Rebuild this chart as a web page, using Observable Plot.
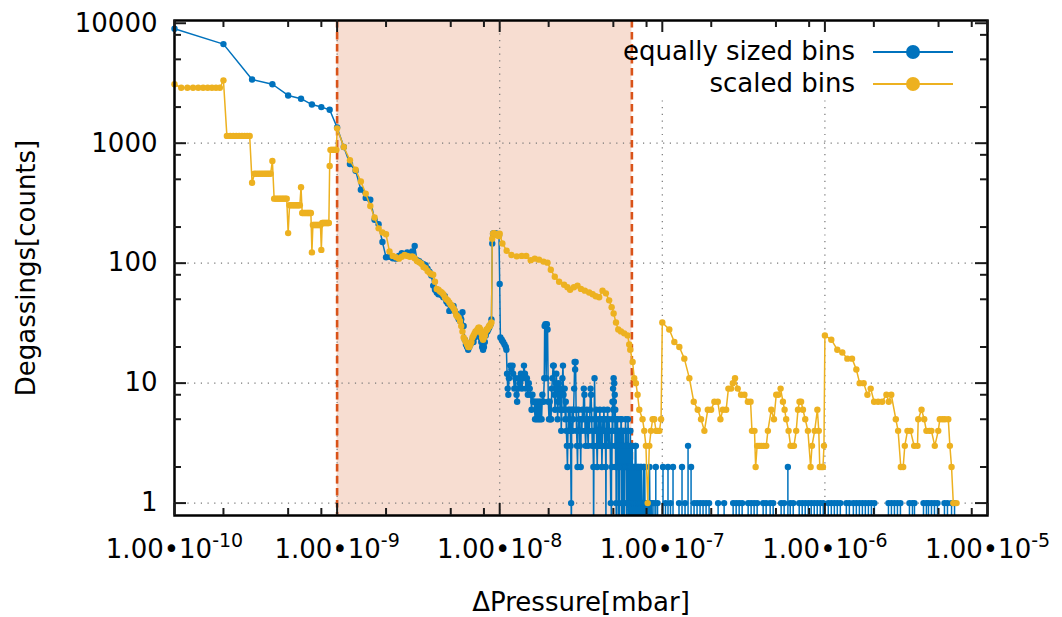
<!DOCTYPE html>
<html>
<head>
<meta charset="utf-8">
<script src="https://cdn.jsdelivr.net/npm/d3@7"></script>
<script src="https://cdn.jsdelivr.net/npm/@observablehq/plot@0.6"></script>
<style>
  body { margin: 0; background: #fff; }
  #chart svg { display: block; }
</style>
</head>
<body>
<div id="chart"></div>
<script>
// ---------------------------------------------------------------------------
// Data
// ---------------------------------------------------------------------------

// Width of one equally sized bin (mbar); bin n covers n * binWidth
const binWidth = 1e-10;

// Equally sized bins: counts of bins 1 … 99
const equalCounts = [
  9000, 6700, 3400, 3100, 2500, 2350, 2100, 2000, 1900,
  1350, 930, 670, 590, 410, 350, 338, 230, 211, 150,
  112, 113, 110, 109, 115, 121, 118, 123, 118, 125,
  139, 106, 104, 100, 98, 96, 90, 85, 79, 65,
  60, 57, 55, 56, 54, 52, 53, 48, 46, 40,
  44, 42, 44, 40, 38, 36, 34, 33, 34, 39,
  30, 23, 21, 20, 19, 20, 21, 22, 23, 22,
  24, 25, 27, 26, 27, 25, 24, 22, 20, 19,
  20, 22, 25, 27, 27, 28, 29, 30, 31, 34,
  146, 176, 178, 175, 177, 174, 176, 172, 174, 170
];

// Equally sized bins from bin 100 on: [bin, count] (0 = empty bin)
const equalTail = [
  [100,67],[101,24],[103,23],[105,22],[107,21],[109,20],[110,19],[111,12],[112,9],[113,8],
  [114,11],[116,14],[118,13],[120,14],[121,12],[123,9],[125,11],[127,8],[128,7],[130,9],
  [131,11],[133,10],[135,12],[137,9],[139,11],[141,14],[143,12],[145,9],[147,11],[149,8],
  [151,10],[153,9],[155,8],[157,6],[159,8],[161,7],[163,7],[165,5],[167,7],[169,5],
  [171,7],[173,5],[175,7],[177,5],[179,7],[181,5],[183,8],[186,7],[188,11],[189,30],
  [191,31],[193,11],[195,31],[197,28],[199,7],[201,5],[203,7],[205,5],[207,5],[209,9],
  [211,11],[213,14],[215,14],[217,8],[219,6],[221,10],[223,12],[225,9],[227,5],[229,7],
  [231,10],[233,8],[235,6],[237,9],[239,4],[241,6],[243,11],[245,14],[247,8],[249,6],
  [251,9],[253,5],[255,7],[257,4],[259,3],[261,2],[263,4],[265,6],[267,5],[269,4],
  [271,6],[273,3],[275,1],[276,0],[277,4],[279,6],[281,4],[283,5],[285,6],[287,9],
  [289,15],[291,13],[293,15],[295,6],[297,4],[299,3],[301,2],[303,4],[305,6],[307,4],
  [309,5],[311,3],[313,4],[315,2],[317,5],[320,4],[323,6],[326,5],[329,9],[332,8],
  [335,4],[338,3],[341,5],[344,6],[347,4],[350,3],[353,5],[356,4],[359,6],[362,9],
  [365,8],[368,5],[371,3],[374,4],[377,2],[378,0],[380,3],[383,11],[386,5],[389,4],
  [392,6],[395,3],[398,2],[401,4],[404,5],[407,3],[410,4],[413,6],[416,3],[419,5],
  [422,4],[425,2],[428,3],[431,5],[434,4],[437,6],[440,5],[443,3],[446,4],[449,2],
  [450,0],[452,5],[455,3],[458,4],[461,6],[464,4],[467,3],[470,5],[474,4],[478,3],
  [482,1],[484,3],[486,0],[488,4],[490,2],[492,5],[494,7],[496,4],[498,9],[500,6],
  [502,11],[504,7],[506,10],[508,5],[510,8],[512,3],[514,6],[516,2],[518,4],[520,1],
  [522,0],[524,3],[526,5],[528,2],[530,5],[532,3],[535,4],[537,0],[540,2],[542,4],
  [545,0],[547,3],[550,4],[552,2],[555,3],[557,5],[560,5],[562,1],[565,0],[567,3],
  [570,2],[572,4],[575,4],[577,0],[580,1],[582,3],[585,0],[587,2],[590,3],[592,4],
  [595,5],[597,2],[600,4],[603,1],[606,0],[609,3],[612,2],[615,5],[618,4],[621,0],
  [624,3],[627,2],[630,0],[633,1],[636,4],[639,2],[642,2],[645,0],[651,3],[654,3],
  [657,0],[660,1],[664,2],[667,0],[670,1],[674,2],[677,0],[681,3],[684,0],[688,3],
  [691,1],[695,1],[698,0],[702,2],[706,0],[710,2],[714,1],[718,0],[722,2],[726,1],
  [730,0],[734,1],[738,2],[742,2],[746,0],[750,1],[755,0],[760,1],[765,2],[770,0],
  [775,1],[780,2],[785,0],[790,1],[797,0],[805,1],[812,0],[820,1],[827,0],[835,2],
  [842,0],[850,1],[857,0],[865,1],[872,0]
];

// Isolated occupied bins at high pressure (neighbours empty): [bin, count]
const equalSparse = [
  [889,1],[912,2],[935,1],[1010,2],[1046,1],[1084,2],[1123,1],[1164,2],[1267,1],[1322,2],
  [1380,1],[1440,3],[1503,2],[1568,1],[1636,1],[1707,1],[1781,1],[1859,1],[1940,1],[2204,1],
  [2400,1],[2727,1],[2846,1],[2969,1],[3098,1],[3372,1],[3518,1],[3671,1],[3831,1],[4171,1],
  [4352,1],[4607,1],[4807,1],[5380,1],[5615,1],[5920,2],[6120,1],[6386,1],[6950,1],[7252,1],
  [7567,1],[7897,1],[8240,1],[8598,1],[8972,1],[9362,1],[9769,1],[10490,1],[10950,1],[11430,1],
  [11920,1],[12440,1],[13550,1],[14140,1],[14960,1],[15610,1],[16290,1],[17000,1],[17730,1],[18510,1],
  [19310,1],[20150,1],[24590,1],[25650,1],[26770,1],[27930,1],[29140,1],[33110,1],[34550,1],[35550,1],
  [40400,1],[42100,1],[43350,1],[45230,1],[47190,1],[49250,1],[54360,1],[56720,1],[60100,1],[62700,1]
];

// Scaled bins, 1e-10 … 1e-9 mbar in steps of 1e-11 mbar
const scaledDecade1 = [
  3100, 2900, 2900, 2900, 2900, 2900, 2900, 2900, 2900, 2900,
  3340, 1150, 1150, 1150, 1150, 1150, 1150, 1150, 1150, 1150,
  468, 556, 556, 556, 556, 556, 556, 556, 556, 556,
  711, 345, 345, 345, 345, 345, 345, 345, 345, 345,
  178, 304, 304, 304, 304, 304, 304, 304, 304, 304,
  430, 262, 262, 262, 262, 262, 262, 262, 262, 262,
  123, 208, 208, 208, 208, 208, 208, 208, 208, 208,
  129, 216, 216, 216, 216, 216, 216, 216, 216, 216,
  646, 880, 880, 880, 880, 880, 880, 880, 880, 880
];

// Scaled bins, 1e-9 … 1e-8 mbar in steps of 1e-10 mbar
const scaledDecade2 = [
  1330, 930, 720, 600, 480, 380, 300, 240, 195, 180,
  174, 125, 115, 112, 109, 113, 117, 115, 113, 114,
  110, 104, 102, 99, 93, 91, 86, 83, 81, 80,
  70, 61, 60, 58, 57, 55, 52, 50, 49, 47,
  45, 44, 42, 40, 37, 36, 35, 33, 30, 27,
  24, 23, 22, 21, 20, 20, 21, 22, 24, 25,
  26, 27, 27, 28, 29, 29, 28, 26, 24, 23,
  24, 25, 27, 28, 28, 29, 30, 30, 31, 32,
  160, 176, 178, 176, 175, 174, 172, 175, 170, 168
];

// Scaled bins above 1e-8 mbar: [pressure (mbar), count]
const scaledTail = [
  [1.0e-8,176],[1.039e-8,146],[1.104e-8,127],[1.18e-8,117],[1.273e-8,114],[1.366e-8,115],
  [1.456e-8,115],[1.552e-8,106],[1.643e-8,109],[1.746e-8,107],[1.859e-8,103],[1.967e-8,101],
  [2.062e-8,88],[2.182e-8,77],[2.32e-8,70],[2.49e-8,66],[2.61e-8,63],[2.71e-8,60],
  [2.86e-8,63],[3.01e-8,65],[3.16e-8,61],[3.34e-8,59],[3.55e-8,57],[3.73e-8,55],
  [3.90e-8,53],[4.09e-8,52],[4.29e-8,59],[4.50e-8,56],[4.71e-8,49],[4.88e-8,43],
  [5.02e-8,38],[5.19e-8,32],[5.36e-8,28],[5.57e-8,27],[5.83e-8,26],[6.12e-8,25],
  [6.26e-8,21],[6.35e-8,19],[6.57e-8,15],[6.72e-8,11],[6.88e-8,10],[7.05e-8,8],
  [7.22e-8,6],[7.56e-8,5],[7.75e-8,4],[7.93e-8,3],[8.13e-8,1],[8.32e-8,3],
  [8.52e-8,4],[8.72e-8,5],[8.93e-8,5],[9.15e-8,4],[9.37e-8,4],[9.60e-8,4],[9.83e-8,5],
  [1.0e-7,32],[1.104e-7,28],[1.186e-7,22],[1.273e-7,20],[1.366e-7,16],[1.467e-7,11],
  [1.561e-7,7],[1.652e-7,6],[1.731e-7,5],[1.815e-7,4],[1.905e-7,6],[1.996e-7,6],
  [2.091e-7,7],[2.194e-7,7],[2.277e-7,5],[2.357e-7,6],[2.47e-7,6],[2.55e-7,9],
  [2.65e-7,9],[2.715e-7,10],[2.80e-7,11],[2.91e-7,9],[3.05e-7,8],[3.20e-7,8],
  [3.36e-7,7],[3.49e-7,7],[3.56e-7,4],[3.69e-7,4],[3.75e-7,2],[3.83e-7,3],
  [3.94e-7,3],[4.06e-7,3],[4.20e-7,3],[4.36e-7,3],[4.46e-7,4],[4.68e-7,6],
  [4.86e-7,5],[5.02e-7,8],[5.17e-7,8],[5.34e-7,9],[5.52e-7,7],[5.65e-7,6],
  [5.78e-7,5],[5.98e-7,4],[6.15e-7,3],[6.30e-7,3],[6.45e-7,3],[6.66e-7,4],
  [6.83e-7,6],[6.98e-7,7],[7.14e-7,7],[7.33e-7,6],[7.57e-7,5],[7.86e-7,4],
  [8.17e-7,2],[8.33e-7,3],[8.65e-7,4],[8.99e-7,6],[9.17e-7,4],[9.30e-7,2],
  [9.52e-7,2],[9.73e-7,2],[9.87e-7,3],
  [1.0e-6,25],[1.095e-6,23],[1.192e-6,19],[1.28e-6,18],[1.374e-6,16],[1.469e-6,16],
  [1.561e-6,13],[1.636e-6,10],[1.731e-6,10],[1.826e-6,8],[1.913e-6,9],[2.007e-6,7],
  [2.124e-6,7],[2.249e-6,7],[2.39e-6,8],[2.47e-6,7],[2.56e-6,8],[2.73e-6,5],
  [2.82e-6,4],[2.93e-6,2],[3.03e-6,2],[3.10e-6,3],[3.22e-6,4],[3.36e-6,4],
  [3.54e-6,3],[3.71e-6,3],[3.75e-6,5],[3.93e-6,6],[4.08e-6,5],[4.21e-6,4],
  [4.39e-6,4],[4.52e-6,4],[4.74e-6,3],[4.98e-6,4],[5.09e-6,5],[5.29e-6,5],
  [5.47e-6,5],[5.74e-6,5],[5.87e-6,3],[6.01e-6,2],[6.16e-6,1],[6.45e-6,1]
];

// Highlighted pressure window (mbar)
const windowFrom = 1e-9;
const windowTo = 6.5e-8;

// Axis ticks and labels
const xMajor = [1e-10, 1e-9, 1e-8, 1e-7, 1e-6, 1e-5];
const yMajor = [1, 10, 100, 1000, 10000];
const minorMantissas = [2, 5, 8];
const xGrid = [1e-9, 1e-8, 1e-7, 1e-6];
const yGrid = [1, 10, 100, 1000];

const seriesNames = ["equally sized bins", "scaled bins"];
const xTitle = "ΔPressure[mbar]";
const yTitle = "Degassings[counts]";

// ---------------------------------------------------------------------------
// Layout and styling
// ---------------------------------------------------------------------------
const W = 1062, H = 617;
const mL = 174, mR = 75, mT = 20, mB = 102;
const innerW = W - mL - mR, innerH = H - mT - mB;
const xDomain = [1e-10, 1e-5];
const yDomain = [0.788, 10540];
const yFloor = 0.5;               // empty bins drop below the visible range
const blue = "#0072bd", yellow = "#edb120", accent = "#d95319";
const font = "DejaVu Sans";

// ---------------------------------------------------------------------------
// Build plotting tables
// ---------------------------------------------------------------------------
const equal = [
  ...equalCounts.map((c, i) => ({p: (i + 1) * binWidth, c})),
  ...equalTail.map(([b, c]) => ({p: b * binWidth, c}))
];
const equalLine = equal.map(d => ({p: d.p, y: d.c > 0 ? d.c : yFloor}));
const sparse = equalSparse.map(([b, c]) => ({p: b * binWidth, c}));
const equalDots = equal.filter(d => d.c > 0).concat(sparse);

const scaled = [
  ...scaledDecade1.map((c, i) => ({p: 1e-10 + i * 1e-11, c})),
  ...scaledDecade2.map((c, i) => ({p: 1e-9 + i * 1e-10, c})),
  ...scaledTail.map(([p, c]) => ({p, c}))
];

const xMinor = d3.range(-10, -5).flatMap(e => minorMantissas.map(m => m * Math.pow(10, e)));
const yMinor = d3.range(0, 4).flatMap(e => minorMantissas.map(m => m * Math.pow(10, e)));

const tickColor = "#1a1a1a";
const majorLen = 12, minorLen = 7;
const tickMarks = [
  // left / right
  Plot.tickY(yMajor, {y: d => d, insetRight: innerW - majorLen, stroke: tickColor, strokeWidth: 2}),
  Plot.tickY(yMajor, {y: d => d, insetLeft: innerW - majorLen, stroke: tickColor, strokeWidth: 2}),
  Plot.tickY(yMinor, {y: d => d, insetRight: innerW - minorLen, stroke: tickColor, strokeWidth: 2}),
  Plot.tickY(yMinor, {y: d => d, insetLeft: innerW - minorLen, stroke: tickColor, strokeWidth: 2}),
  // bottom / top
  Plot.tickX(xMajor, {x: d => d, insetTop: innerH - majorLen, stroke: tickColor, strokeWidth: 2}),
  Plot.tickX(xMajor, {x: d => d, insetBottom: innerH - majorLen, stroke: tickColor, strokeWidth: 2}),
  Plot.tickX(xMinor, {x: d => d, insetTop: innerH - minorLen, stroke: tickColor, strokeWidth: 2}),
  Plot.tickX(xMinor, {x: d => d, insetBottom: innerH - minorLen, stroke: tickColor, strokeWidth: 2})
];

const gridStyle = {stroke: "#777", strokeWidth: 1.2, strokeDasharray: "1.2,5.5", ariaDescription: "grid"};

const svg = Plot.plot({
  width: W,
  height: H,
  marginLeft: mL,
  marginRight: mR,
  marginTop: mT,
  marginBottom: mB,
  style: {fontFamily: font, fontSize: "26px", color: "#000", background: "#fff"},
  x: {type: "log", domain: xDomain},
  y: {type: "log", domain: yDomain},
  marks: [
    // highlighted pressure window
    Plot.rect([{a: windowFrom, b: windowTo}], {x1: "a", x2: "b", fill: accent, fillOpacity: 0.2}),
    // dotted grid
    Plot.ruleY(yGrid, {y: d => d, ...gridStyle}),
    Plot.ruleX(xGrid, {x: d => d, ...gridStyle}),
    // window boundaries
    Plot.ruleX([windowFrom, windowTo], {x: d => d, stroke: accent, strokeWidth: 2.6, strokeDasharray: "7.5,4.5"}),
    // equally sized bins
    Plot.line(equalLine, {x: "p", y: "y", stroke: blue, strokeWidth: 1.5, clip: true}),
    Plot.ruleX(sparse, {x: "p", y1: () => yFloor, y2: "c", stroke: blue, strokeWidth: 1.5, clip: true}),
    Plot.dot(equalDots, {x: "p", y: "c", r: 3.2, fill: blue, stroke: "none"}),
    // scaled bins
    Plot.line(scaled, {x: "p", y: "c", stroke: yellow, strokeWidth: 1.5, clip: true}),
    Plot.dot(scaled, {x: "p", y: "c", r: 3.2, fill: yellow, stroke: "none"}),
    // frame and ticks
    Plot.frame({stroke: "#000", strokeWidth: 2.5}),
    ...tickMarks,
    // tick labels
    Plot.axisY(yMajor, {tickSize: 0, tickPadding: 17, fontSize: 26, tickFormat: d => String(d), label: null}),
    Plot.axisX(xMajor, {tickSize: 0, tickPadding: 24.5, fontSize: 26,
      tickFormat: d => "1.00•10^" + Math.round(Math.log10(d)), label: null}),
    // axis titles
    Plot.text([xTitle], {text: d => d, frameAnchor: "bottom", dy: 87, fontSize: 26,
      textAnchor: "middle", lineAnchor: "middle"}),
    Plot.text([yTitle], {text: d => d, frameAnchor: "left", dx: -148, rotate: -90, fontSize: 26,
      textAnchor: "middle", lineAnchor: "middle"})
  ]
});

const root = d3.select(svg);

// Exponents of the pressure tick labels as superscripts
root.selectAll('g[aria-label="x-axis tick label"] text').each(function () {
  const [base, exp] = this.textContent.split("^");
  if (exp === undefined) return;
  const t = d3.select(this);
  t.text(base);
  t.append("tspan").attr("dy", -11).attr("font-size", 19).text(exp);
});

// Key box (opaque) sits above the grid, below the data and frame
let grids = svg.querySelectorAll('g[aria-description="grid"]');
if (!grids.length) grids = svg.querySelectorAll('g[aria-label="rule"]');
const ns = "http://www.w3.org/2000/svg";
const keyBox = document.createElementNS(ns, "rect");
keyBox.setAttribute("x", 633);
keyBox.setAttribute("y", 21);
keyBox.setAttribute("width", 353);
keyBox.setAttribute("height", 77);
keyBox.setAttribute("fill", "#fff");
if (grids.length >= 2) {
  const lastGrid = grids[Math.min(1, grids.length - 1)];
  lastGrid.parentNode.insertBefore(keyBox, lastGrid.nextSibling);
}

// Key entries
const key = root.append("g").attr("font-family", font).attr("font-size", 26);
[blue, yellow].forEach((color, i) => {
  const cy = 52 + i * 32;
  key.append("text").attr("x", 855).attr("y", cy + 8).attr("text-anchor", "end")
    .attr("fill", "#000").text(seriesNames[i]);
  key.append("line").attr("x1", 873).attr("x2", 953).attr("y1", cy).attr("y2", cy)
    .attr("stroke", color).attr("stroke-width", 2);
  key.append("circle").attr("cx", 913).attr("cy", cy).attr("r", 7).attr("fill", color);
});

document.getElementById("chart").appendChild(svg);
</script>
</body>
</html>
